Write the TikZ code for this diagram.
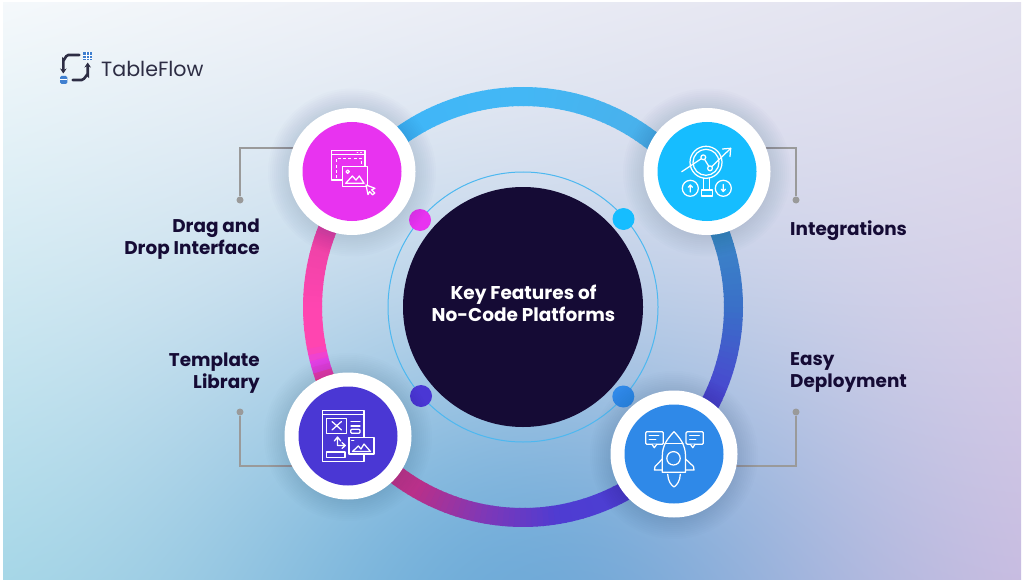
\documentclass[tikz,border=0pt]{standalone}
\usepackage{fontspec}
\setmainfont{Poppins}
\usetikzlibrary{calc,arrows.meta}
\definecolor{ink}{HTML}{150B35}
\definecolor{logoink}{HTML}{2D2D44}
\definecolor{conngray}{HTML}{9A9A9A}
\definecolor{cmag}{HTML}{E833F0}
\definecolor{ccya}{HTML}{16BDFF}
\definecolor{cind}{HTML}{4A37D4}
\definecolor{cblu}{HTML}{2F89E8}
\definecolor{ringline}{HTML}{4DB8F0}
\definecolor{logoblue}{HTML}{3F7FD0}
\definecolor{shadowc}{HTML}{1A3050}
% ring stops
\definecolor{sA}{HTML}{3FB6F8}
\definecolor{sB}{HTML}{43B7F5}
\definecolor{sC}{HTML}{4AB0EA}
\definecolor{sD}{HTML}{3B86C8}
\definecolor{sE}{HTML}{3A70C8}
\definecolor{sF}{HTML}{4A45D0}
\definecolor{sG}{HTML}{4E3CD2}
\definecolor{sH}{HTML}{7D38B8}
\definecolor{sI}{HTML}{B8308A}
\definecolor{sJ}{HTML}{E8359A}
\definecolor{sK}{HTML}{F53A6A}
\definecolor{sL}{HTML}{E040F0}
\definecolor{sM}{HTML}{FF45B0}
\definecolor{sN}{HTML}{FF45B0}
\definecolor{sO}{HTML}{EC42A6}
% channel: TL TR BL BR blob ; stack u v w -> u v w val
\def\chan#1#2#3#4#5{2 index #2 #1 sub mul #1 add 3 index #4 #3 sub mul #3 add exch 3 index mul exch 1 4 index sub mul add 1 index #5 mul sub 4 1 roll }
\pgfdeclarefunctionalshading{bggrad}{\pgfpointorigin}{\pgfpoint{100bp}{100bp}}{}{
25 sub 50 div exch 25 sub 50 div exch
1 index 0.52 sub dup mul 0.097 div
1 index dup mul 0.245 div add
neg 2.71828 exch exp
\chan{0.96}{0.885}{0.67}{0.81}{0.30}
\chan{0.975}{0.88}{0.85}{0.75}{0.13}
\chan{0.985}{0.935}{0.91}{0.885}{0.05}
pop pop pop
}
\tikzset{
  discwhite/.style={circle,fill=white,minimum size=127pt,inner sep=0pt},
  discin/.style={circle,minimum size=99pt,inner sep=0pt},
  smalldot/.style={circle,minimum size=22pt,inner sep=0pt},
  conn/.style={draw=conngray,line width=2pt},
  conndot/.style={circle,fill=conngray,minimum size=7pt,inner sep=0pt},
  label/.style={text=ink,font=\fontsize{18.4}{22}\selectfont\bfseries,inner sep=0pt},
  ico/.style={draw=white,line width=1.25pt,line join=round,line cap=round},
}
\newcommand{\softshadow}[2]{\foreach \rr in {64,66,...,84}{\fill[shadowc,opacity=.011] (#1,#2+1) circle[radius=\rr];}}
\newcommand{\ringseg}[4]{% a1 a2 c1 c2
  \pgfmathsetmacro{\aone}{#1}\pgfmathsetmacro{\atwo}{#2}
  \pgfmathsetmacro{\nstep}{int(max(1,(\atwo-\aone)/1.5))}
  \foreach \ii in {1,...,\nstep}{
    \pgfmathsetmacro{\pp}{100*(\ii-.5)/\nstep}
    \pgfmathsetmacro{\sa}{\aone+(\ii-1)*(\atwo-\aone)/\nstep}
    \pgfmathsetmacro{\sb}{\aone+\ii*(\atwo-\aone)/\nstep+.3}
    \colorlet{segc}{#4!\pp!#3}
    \draw[segc,line width=19pt] (\sa:210.5) -- (\sb:210.5);
  }}
\begin{document}
\begin{tikzpicture}[x=1pt,y=-1pt]
\useasboundingbox (0,0) rectangle (1024,580);
\fill[white] (0,0) rectangle (1024,580);
\shade[shading=bggrad] (3,3) rectangle (1021,580);

% logo
\fill[logoblue] (83.3,52.3) rectangle (92,60.5);
\foreach \q in {86.2,89.1}{\draw[white,line width=.35pt] (\q,52.3) -- (\q,60.5);}
\foreach \q in {55,57.8}{\draw[white,line width=.35pt] (83.3,\q) -- (92,\q);}
\fill[logoblue,rounded corners=1.5pt] (60,76) rectangle (67.3,84);
\draw[white,line width=.4pt] (60,79) -- (67.3,79);
\draw[logoink,line width=2.6pt,line cap=round,-{Stealth[length=5pt,width=6.5pt]}] (79.3,55) -- (68.3,55) to[out=180,in=-90] (63.3,60) -- (63.3,73.5);
\draw[logoink,line width=2.6pt,line cap=round,-{Stealth[length=5pt,width=6.5pt]}] (72.7,80) -- (81.7,80) to[out=0,in=90] (87.7,75) -- (87.7,62.5);
\node[anchor=west,inner sep=0pt,text=logoink,font=\fontsize{20.6}{24}\selectfont] (logotext) at (101,68.5) {TableFlow};

% thin ring and gradient ring
\coordinate (ctr) at (523,307);
\draw[ringline,line width=1pt] (ctr) circle[radius=135];
\begin{scope}[shift={(ctr)}]
\ringseg{-130}{-90}{sA}{sB}
\ringseg{-90}{-50}{sB}{sC}
\ringseg{-50}{-20}{sC}{sD}
\ringseg{-20}{0}{sD}{sE}
\ringseg{0}{25}{sE}{sF}
\ringseg{25}{80}{sF}{sG}
\ringseg{80}{100}{sG}{sH}
\ringseg{100}{120}{sH}{sI}
\ringseg{120}{150}{sI}{sJ}
\ringseg{150}{159}{sJ}{sK}
\ringseg{159}{164}{sK}{sL}
\ringseg{164}{169}{sL}{sM}
\ringseg{169}{180}{sM}{sN}
\ringseg{180}{200}{sN}{sO}
\ringseg{200}{230}{sO}{sA}
\end{scope}

% connectors
\coordinate (ea) at (300,148);
\coordinate (eb) at (760,148);
\coordinate (ec) at (300,466);
\coordinate (ed) at (730,466);
\node[conndot] (da) at (240,200) {};
\node[conndot] (db) at (796,200) {};
\node[conndot] (dc) at (240,412) {};
\node[conndot] (dd) at (796,412) {};
\draw[conn] (da) |- (ea);
\draw[conn] (db) |- (eb);
\draw[conn] (dc) |- (ec);
\draw[conn] (dd) |- (ed);

% centre
\node[circle,fill=ink,minimum size=240pt,inner sep=0pt] (hub) at (ctr) {};
\node[align=center,text=white,inner sep=0pt,font=\fontsize{18.5}{22}\selectfont\bfseries] (hubtext) at (523.5,303) {Key Features of\\No-Code Platforms};
\node[smalldot,fill=cmag] (sm) at (420,220) {};
\node[smalldot,fill=ccya] (sc) at (623.5,219) {};
\node[smalldot,fill=cind] (si) at (421,396) {};
\node[smalldot,fill=cblu] (sb) at (623.3,396.5) {};

% discs
\softshadow{352}{171.5}
\softshadow{707}{171.5}
\softshadow{348}{436}
\softshadow{674}{454}
\node[discwhite] (wa) at (352,171.5) {};
\node[discwhite] (wb) at (707,171.5) {};
\node[discwhite] (wc) at (348,436) {};
\node[discwhite] (wd) at (674,454) {};
\node[discin,fill=cmag] (ia) at (352,171.5) {};
\node[discin,fill=ccya] (ib) at (707,171.5) {};
\node[discin,fill=cind] (ic) at (348,436) {};
\node[discin,fill=cblu] (id) at (674,454) {};

% icon: drag and drop
\draw[ico] (331.7,150.7) rectangle (365,180);
\draw[ico] (331.7,154.5) -- (365,154.5);
\draw[ico,line width=.9pt] (357,152.6) -- (358,152.6) (360.5,152.6) -- (361.5,152.6);
\draw[ico,dash pattern=on 3pt off 2.2pt,line cap=butt] (336.7,178) -- (336.7,158.5) -- (361.7,158.5) -- (361.7,166);
\draw[ico,fill=cmag] (342.3,166.7) rectangle (367.7,186.7);
\draw[ico] (347.7,171.7) circle[radius=1.7];
\draw[ico] (345.7,183.3) -- (352.3,176) -- (356,180) -- (359.3,176) -- (364,183.3) -- cycle;
\draw[ico,fill=cmag] (366,185) -- (375,188.3) -- (371.6,189.9) -- (374.8,193) -- (372.6,194.8) -- (369.6,191.6) -- (368,194.6) -- cycle;

% icon: integrations
\draw[ico] (706,162.3) circle[radius=16];
\draw[ico] (706,162.3) circle[radius=13];
\draw[ico] (681.7,171.7) -- (703.3,157.3) -- (710,168.3) -- (730.7,148.3);
\draw[ico] (722.5,149) -- (730.7,148.3) -- (730,156.5);
\draw[ico,fill=ccya] (703.3,157.3) circle[radius=2.4];
\draw[ico,fill=ccya] (710,168.3) circle[radius=2.4];
\draw[ico] (703.5,178.5) -- (703.5,190) (709.5,178.5) -- (709.5,190);
\draw[ico] (701.7,190) rectangle (712.3,196);
\draw[ico] (690.3,188.3) circle[radius=8];
\draw[ico] (723.3,188.3) circle[radius=8];
\draw[ico] (690.3,192) -- (690.3,185.5) (688.2,187.3) -- (690.3,185) -- (692.4,187.3);
\draw[ico] (723.3,184.5) -- (723.3,191) (721.2,189.2) -- (723.3,191.5) -- (725.4,189.2);

% icon: template library
\draw[ico] (322.7,410.7) rectangle (364,461.7);
\draw[ico] (322.7,414.3) -- (364,414.3);
\draw[ico] (326.7,418.3) rectangle (346.7,433.3);
\draw[ico] (332,421.5) -- (341.5,430) (341.5,421.5) -- (332,430);
\draw[ico] (351,421.7) -- (360,421.7) (351,426) -- (360,426);
\draw[ico,rounded corners=1pt] (350.7,429.3) rectangle (360,433.3);
\draw[ico] (337.5,445) -- (337.5,437.3) (334.3,441) -- (337.5,437) -- (340.7,441);
\draw[ico] (337.5,445) -- (337.5,445.5) -- (345,445.5) (342,442.5) -- (345.3,445.5) -- (342,448.5);
\draw[ico] (326.7,452) rectangle (345,457.7);
\draw[ico,fill=cind] (349,437.3) rectangle (374,454);
\draw[ico,line width=.8pt] (351.5,440) -- (354,440);
\draw[ico] (352.5,451.5) -- (358.3,446) -- (361,449) -- (364,444) -- (370.5,451.5) -- cycle;

% icon: easy deployment
\draw[ico] (662.3,472.3) -- (662.3,456) .. controls (662.3,445) and (668,438) .. (674,431.7) .. controls (680,438) and (685.5,445) .. (685.5,456) -- (685.5,472.3) -- cycle;
\draw[ico] (665,443.5) -- (683,443.5);
\draw[ico] (673.5,458.3) circle[radius=6.7];
\draw[ico] (662.3,459) -- (655,466.5) -- (654.5,470) -- (662.3,470);
\draw[ico] (685.5,459) -- (693.5,466.5) -- (694,470) -- (685.5,470);
\draw[ico] (667.7,474.3) .. controls (668,481) and (671,485) .. (674,487) .. controls (677,485) and (680,481) .. (680.3,474.3);
\draw[ico,rounded corners=1.2pt] (645.7,431.7) rectangle (663.3,444.3);
\draw[ico,fill=cblu] (652,444.3) -- (654.3,447.7) -- (656.8,444.3);
\draw[ico,line width=.8pt] (649,435.5) -- (659,435.5) (649,439) -- (656,439);
\draw[ico,rounded corners=1.2pt] (686,431.7) rectangle (703.3,444.3);
\draw[ico,fill=cblu] (690.5,444.3) -- (692.8,447.7) -- (695,444.3);
\draw[ico,line width=.8pt] (689.5,435.5) -- (699.5,435.5) (689.5,439) -- (696,439);

% labels
\node[label,anchor=east,align=right] (la) at (260,239) {Drag and\\Drop Interface};
\node[label,anchor=west] (lb) at (790,231) {Integrations};
\node[label,anchor=east,align=right] (lc) at (260,373) {Template\\Library};
\node[label,anchor=west,align=left] (ld) at (790,372) {Easy\\Deployment};
\end{tikzpicture}
\end{document}
